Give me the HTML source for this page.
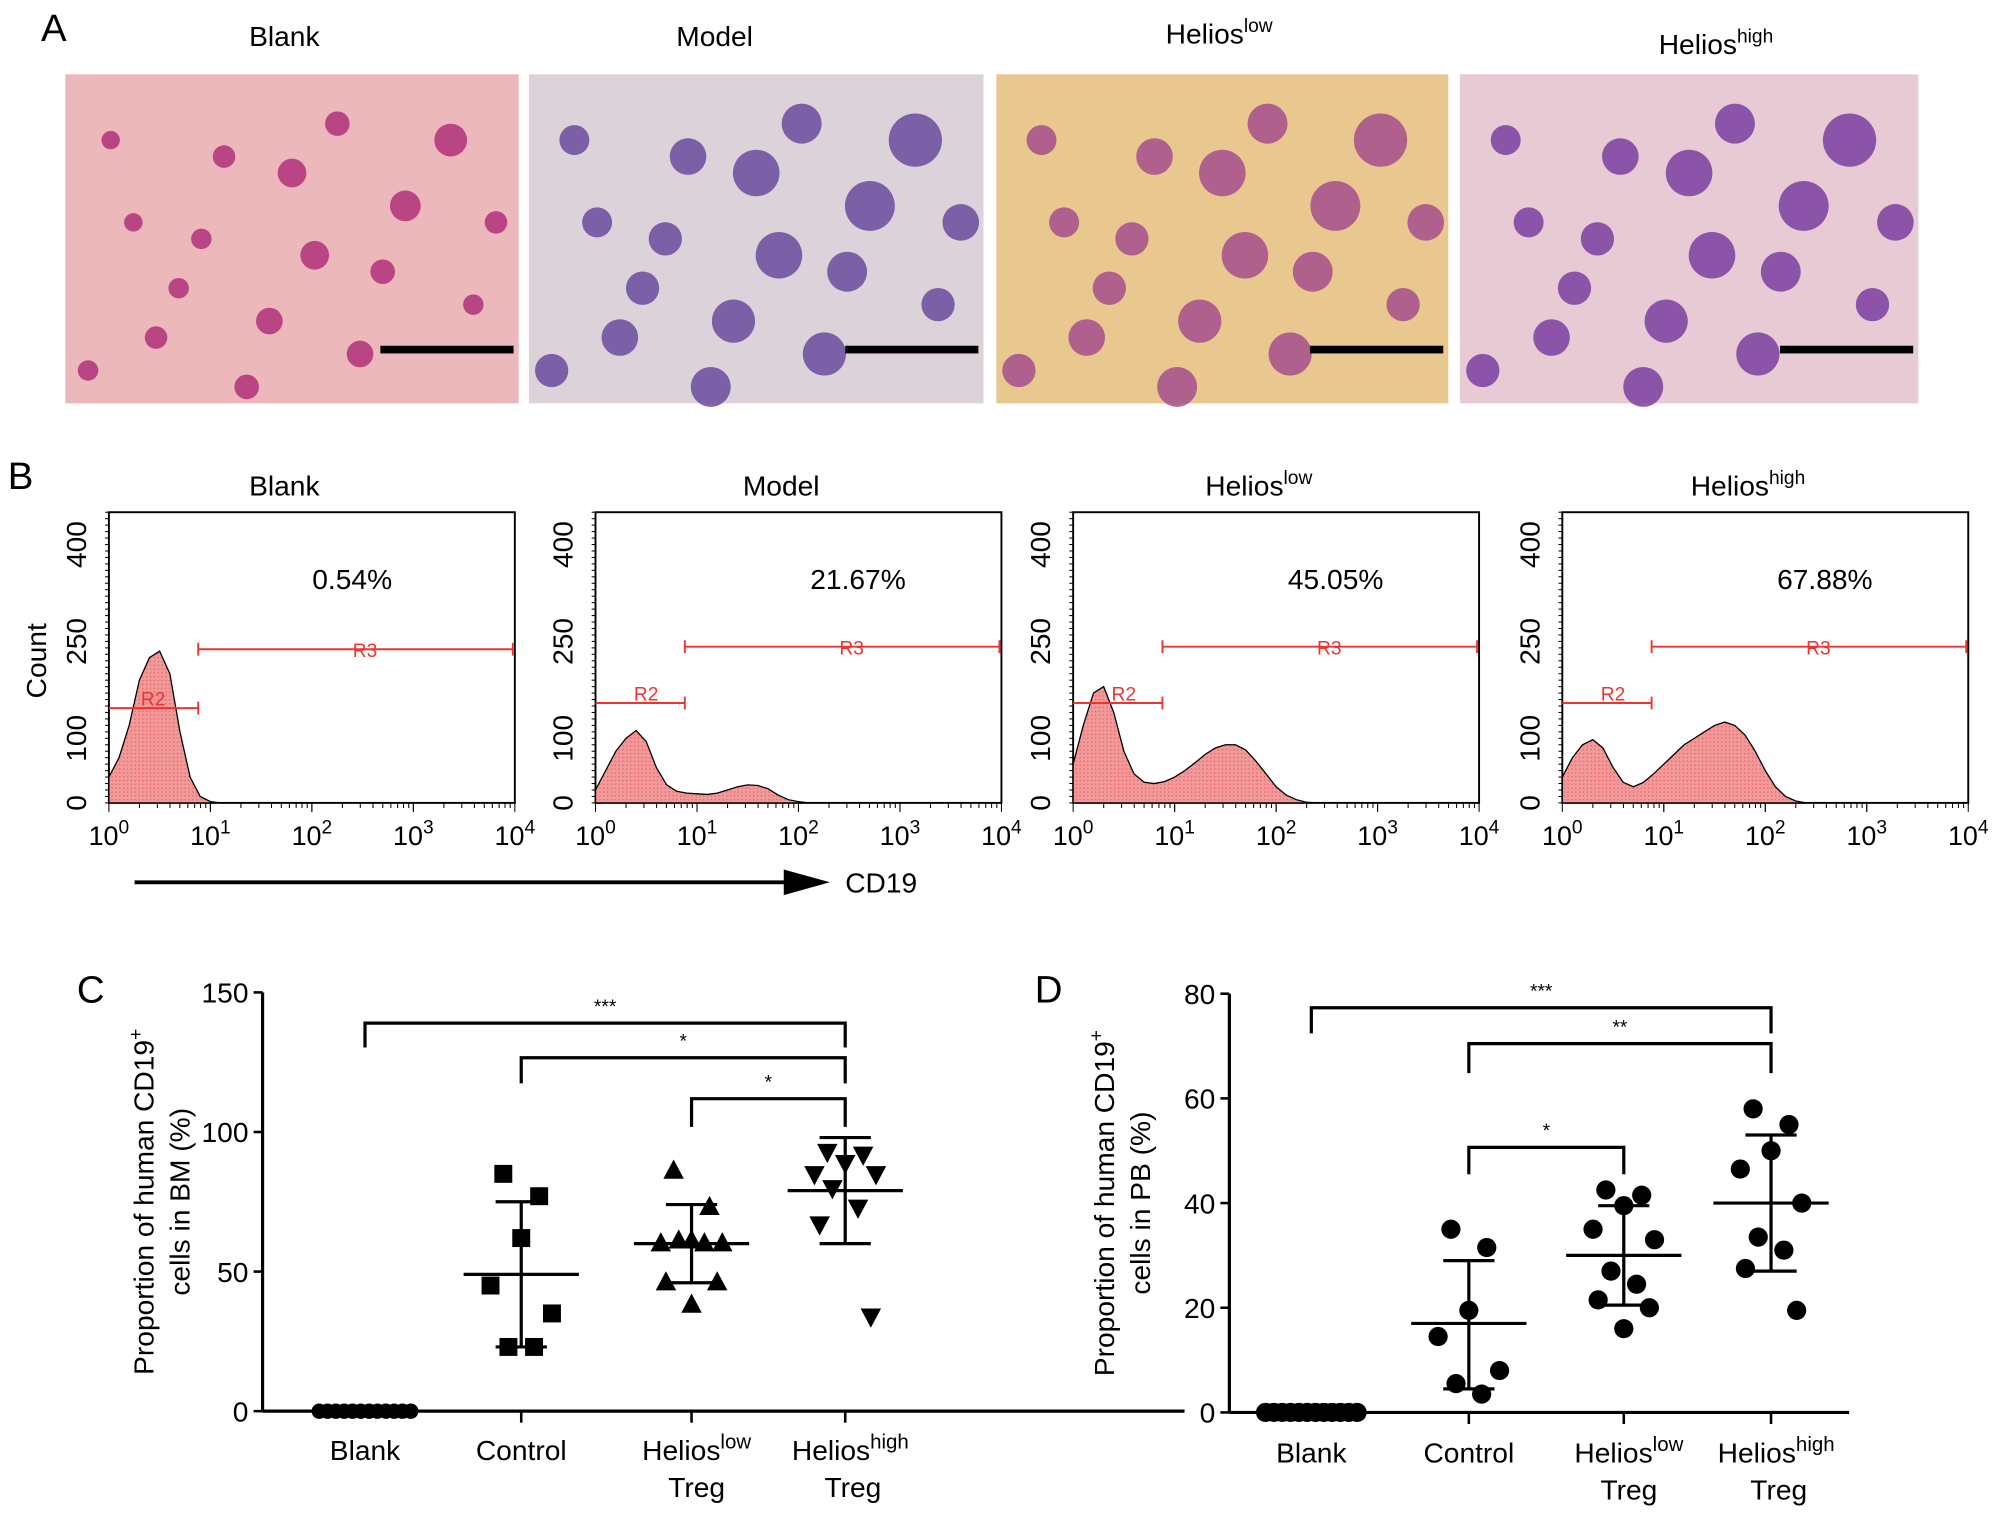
<!DOCTYPE html>
<html><head><meta charset="utf-8">
<style>
html,body{margin:0;padding:0;background:#fff;}
svg{display:block;font-family:"Liberation Sans",Arial,sans-serif;}
</style></head>
<body>
<svg id="fig" width="2008" height="1520" viewBox="0 0 1568 1187" xmlns="http://www.w3.org/2000/svg">
<defs>
<pattern id="hatch" width="3" height="3" patternUnits="userSpaceOnUse"><rect width="3" height="3" fill="#f29a9a"/><rect width="1" height="1" fill="#e86060"/></pattern>
</defs>
<g id="panelA"></g>
<g id="panelB"></g>
<g id="panelC"></g>
<g id="panelD"></g>
</svg>
<script>
const NS="http://www.w3.org/2000/svg";
function mk(tag,attrs,parent,text){const e=document.createElementNS(NS,tag);for(const k in attrs)e.setAttribute(k,attrs[k]);if(text!==undefined)e.textContent=text;parent.appendChild(e);return e;}

// ---------- data ----------
const groupNames=["Blank","Control","Helios low Treg","Helios high Treg"];
const bmBlank=[0,0,0,0,0,0,0,0,0,0,0,0];
const bmControl=[85,77,62,45,35,23,23];
const bmLow=[86,73,61,60,60,61,60,46,46,38];
const bmHigh=[93,92,89,85,85,80,73,67,34];
const bmMean=[0,49,60,79];
const bmSdHi=[0,75,74,98];
const bmSdLo=[0,23,46,60];
const bmTicks=[0,50,100,150];
const pbBlank=[0,0,0,0,0,0,0,0,0,0,0,0];
const pbControl=[35,31.5,19.5,14.5,8,5.5,3.5];
const pbLow=[42.5,41.5,39.5,35,33,27,24.5,21.5,20,16];
const pbHigh=[58,55,50,46.5,40,33.5,31,27.5,19.5];
const pbMean=[0,17,30,40];
const pbSdHi=[0,29,39.5,53];
const pbSdLo=[0,4.5,20.5,27];
const pbTicks=[0,20,40,60,80];
const histTitles=["Blank","Model","Helios","Helios"];
const histSup=["","","low","high"];
const histPct=["0.54%","21.67%","45.05%","67.88%"];
// counts sampled at log10(x)=0,0.1,...,2.6
const hist1=[40,70,120,190,225,235,200,110,40,10,2,0,0,0,0,0,0,0,0,0,0,0,0,0,0,0,0];
const hist2=[20,50,80,100,112,95,55,28,18,15,14,13,15,20,25,28,27,22,12,5,2,0,0,0,0,0,0];
const hist3=[60,120,170,180,140,80,45,32,30,33,40,50,62,75,85,90,90,82,65,45,25,12,5,1,0,0,0];
const hist4=[40,70,90,98,85,55,32,25,32,45,60,75,90,100,110,120,125,120,105,80,50,25,10,3,0,0,0];

// ---------- panel A ----------
const A=document.getElementById('panelA');
mk('text',{x:32,y:32,'font-size':30,},A,'A');
const photos=[{x:51,w:354,bg:"#ecb8bc",cell:"#b0307a",t:"Blank",s:""},{x:413,w:355,bg:"#dcd3da",cell:"#6a4a9e",t:"Model",s:""},{x:778,w:353,bg:"#e9c890",cell:"#a64e8c",t:"Helios",s:"low"},{x:1140,w:358,bg:"#e8cad4",cell:"#7a3fa0",t:"Helios",s:"high"}];
const cellLayout=[[0.1,0.2,9],[0.3,0.5,10],[0.5,0.3,14],[0.7,0.6,12],[0.85,0.2,16],[0.2,0.8,11],[0.45,0.75,13],[0.6,0.15,12],[0.9,0.7,10],[0.15,0.45,9],[0.75,0.4,15],[0.35,0.25,11],[0.55,0.55,14],[0.05,0.9,10],[0.95,0.45,11],[0.4,0.95,12],[0.65,0.85,13],[0.25,0.65,10]];
photos.forEach((p,i)=>{
  const g=mk('g',{},A);
  
  
  mk('rect',{x:p.x,y:58,width:p.w,height:257,fill:p.bg},g);
  cellLayout.forEach((c,j)=>{const r=c[2]*(i==0?0.8:1.3);mk('circle',{cx:p.x+c[0]*p.w,cy:58+c[1]*257,r:r,fill:p.cell,opacity:0.85},g);});
  mk('rect',{x:p.x+p.w-108,y:270,width:104,height:6,fill:"#000"},g);
  const cx=[222,558,952,1340][i];
  const t=mk('text',{x:cx,y:[36,36,34,42][i],'font-size':22,'text-anchor':'middle'},A,p.t);
  
  
  if(p.s)mk('tspan',{'font-size':15,dy:-9},t,p.s);
});

// ---------- panel B ----------
const B=document.getElementById('panelB');
mk('text',{x:6,y:382,'font-size':30,},B,'B');
const boxes=[85,465,838,1220];
const hists=[hist1,hist2,hist3,hist4];
const boxW=317,boxTop=400,boxBot=627;
boxes.forEach((bx,i)=>{
  const g=mk('g',{},B);
  
  
  const xs=l=>bx+l/4*boxW;
  const ys=c=>boxBot-c/450*(boxBot-boxTop);
  mk('rect',{x:bx,y:boxTop,width:boxW,height:boxBot-boxTop,fill:"none",stroke:"#000","stroke-width":1.5},g);
  for(let k=0;k<=45;k++){const yy=ys(k*10);mk('line',{x1:bx-3,x2:bx,y1:yy,y2:yy,stroke:"#000","stroke-width":0.8},g);}
  for(let d=0;d<4;d++)for(let m=1;m<=10;m++){const xx=xs(d+Math.log10(m));mk('line',{x1:xx,x2:xx,y1:boxBot,y2:boxBot+(m==1||m==10?7:4),stroke:"#000","stroke-width":0.8},g);}
  const h=hists[i];let d="M"+xs(0)+","+ys(0);
  h.forEach((c,k)=>{d+=" L"+xs(k*0.1).toFixed(1)+","+ys(c).toFixed(1);});
  d+=" L"+xs((h.length-1)*0.1)+","+ys(0)+" Z";
  const path=mk('path',{d:d,fill:"url(#hatch)",stroke:"#000","stroke-width":1},g);
  
  
  const gy2=i==0?553:549, gy3=i==0?507:505;
  mk('line',{x1:bx,x2:xs(0.88),y1:gy2,y2:gy2,stroke:"#e33","stroke-width":1.5},g);
  mk('line',{x1:xs(0.88),x2:xs(0.88),y1:gy2-5,y2:gy2+5,stroke:"#e33","stroke-width":1.5},g);
  mk('text',{x:bx+(i==0?25:30),y:gy2-2,'font-size':15,fill:"#e33"},g,'R2');
  mk('line',{x1:xs(0.88),x2:xs(3.98),y1:gy3,y2:gy3,stroke:"#e33","stroke-width":1.5},g);
  mk('line',{x1:xs(0.88),x2:xs(0.88),y1:gy3-5,y2:gy3+5,stroke:"#e33","stroke-width":1.5},g);
  mk('line',{x1:xs(3.98),x2:xs(3.98),y1:gy3-5,y2:gy3+5,stroke:"#e33","stroke-width":1.5},g);
  mk('text',{x:bx+200,y:gy3+6,'font-size':15,fill:"#e33",'text-anchor':'middle'},g,'R3');
  const pt=mk('text',{x:bx+(i==0?190:205),y:460,'font-size':22,'text-anchor':'middle'},g,histPct[i]);
  
  
  const tt=mk('text',{x:bx+(i==0?137:145),y:387,'font-size':22,'text-anchor':'middle'},g,histTitles[i]);
  
  
  if(histSup[i])mk('tspan',{'font-size':15,dy:-9},tt,histSup[i]);
  [0,100,250,400].forEach(v=>{const yy=ys(v);const lx=bx-18;mk('text',{x:lx,y:yy,'font-size':22,'text-anchor':'middle',transform:`rotate(-90 ${lx} ${yy})`},g,v);});
  for(let dd=0;dd<=4;dd++){const t=mk('text',{x:xs(dd),y:660,'font-size':21,'text-anchor':'middle'},g,'10');mk('tspan',{'font-size':15,dy:-9},t,dd);}
});
mk('text',{x:36,y:516,'font-size':22,'text-anchor':'middle',transform:'rotate(-90 36 516)',},B,'Count');
mk('line',{x1:105,x2:622,y1:689,y2:689,stroke:"#000","stroke-width":3,},B);
mk('polygon',{points:"648,689 612,679 612,699",fill:"#000"},B);
mk('text',{x:660,y:697,'font-size':22,},B,'CD19');

// ---------- scatter panels ----------
const jitter=[-14,14,0,-24,24,-10,10,-20,20,0];
function scatter(P,cfg){
  const ys=v=>cfg.y0-(v/cfg.max)*(cfg.y0-cfg.yTop);
  mk('text',{x:cfg.lx,y:783,'font-size':30,},P,cfg.letter);
  mk('line',{x1:cfg.ax,x2:cfg.ax,y1:cfg.yTop,y2:cfg.y0,stroke:"#000","stroke-width":2.5},P);
  mk('line',{x1:cfg.ax,x2:cfg.xEnd,y1:cfg.y0,y2:cfg.y0,stroke:"#000","stroke-width":2.5},P);
  cfg.ticks.forEach(v=>{const yy=ys(v);mk('line',{x1:cfg.ax-7,x2:cfg.ax,y1:yy,y2:yy,stroke:"#000","stroke-width":2},P);
    const t=mk('text',{x:cfg.ax-11,y:yy+8,'font-size':22,'text-anchor':'end'},P,v);
    
    });
  const yl=mk('text',{x:0,y:0,'font-size':22,'text-anchor':'middle',transform:`translate(${cfg.ylx},${(cfg.yTop+cfg.y0)/2}) rotate(-90)`},P);
  
  
  mk('tspan',{x:0,dy:0},yl,'Proportion of human CD19');mk('tspan',{'font-size':15,dy:-9},yl,'+');
  mk('tspan',{x:0,dy:37},yl,cfg.line2);
  const groups=[cfg.blank,cfg.control,cfg.low,cfg.high];
  groups.forEach((vals,gi)=>{
    const cx=cfg.xs[gi];
    if(gi>0)mk('line',{x1:cx,x2:cx,y1:cfg.y0,y2:cfg.y0+9,stroke:"#000","stroke-width":2},P);
    const lab=mk('text',{x:cx+(gi>=2?4:0),y:cfg.labY,'font-size':22,'text-anchor':'middle'},P);
    
    
    if(gi<2)lab.textContent=groupNames[gi];
    else{mk('tspan',{},lab,'Helios');mk('tspan',{'font-size':16,dy:-9},lab,gi==2?'low':'high');mk('tspan',{x:cx+(gi==2?4:6),dy:38},lab,'Treg');}
    const n=vals.length;
    vals.forEach((v,k)=>{
      const off=gi==0?(k-(n-1)/2)*6.5:jitter[k%jitter.length];
      const px=cx+off,py=ys(v);let e;
      if(cfg.shape==='circle')e=mk('circle',{cx:px,cy:py,r:7.5,fill:"#000"},P);
      else if(gi==0)e=mk('circle',{cx:px,cy:py,r:6,fill:"#000"},P);
      else if(gi==1)e=mk('rect',{x:px-7,y:py-7,width:14,height:14,fill:"#000"},P);
      else if(gi==2)e=mk('polygon',{points:`${px},${py-9} ${px-8},${py+6} ${px+8},${py+6}`,fill:"#000"},P);
      else e=mk('polygon',{points:`${px},${py+9} ${px-8},${py-6} ${px+8},${py-6}`,fill:"#000"},P);
      
      
    });
    if(gi>0){
      const m=mk('line',{x1:cx-45,x2:cx+45,y1:ys(cfg.mean[gi]),y2:ys(cfg.mean[gi]),stroke:"#000","stroke-width":2.5},P);
      
      
      mk('line',{x1:cx,x2:cx,y1:ys(cfg.hi[gi]),y2:ys(cfg.lo[gi]),stroke:"#000","stroke-width":2.5},P);
      mk('line',{x1:cx-20,x2:cx+20,y1:ys(cfg.hi[gi]),y2:ys(cfg.hi[gi]),stroke:"#000","stroke-width":2.5},P);
      mk('line',{x1:cx-20,x2:cx+20,y1:ys(cfg.lo[gi]),y2:ys(cfg.lo[gi]),stroke:"#000","stroke-width":2.5},P);
    }
  });
  cfg.sig.forEach(s=>{
    const x1=cfg.xs[s[0]],x2=cfg.xs[s[1]],yb=s[2],ye=s[3],tx=(x1+x2)/2;
    const b=mk('path',{d:`M${x1},${ye} V${yb} H${x2} V${ye}`,fill:"none",stroke:"#000","stroke-width":2.5},P);
    
    
    mk('text',{x:tx,y:yb-8,'font-size':15,'text-anchor':'middle'},P,s[4]);
  });
}
scatter(document.getElementById('panelC'),{id:'bm',letter:'C',lx:60,ax:205,xEnd:925,y0:1102,yTop:775,max:150,ticks:bmTicks,ylx:120,line2:'cells in BM (%)',
  xs:[285,407,540,660],blank:bmBlank,control:bmControl,low:bmLow,high:bmHigh,mean:bmMean,hi:bmSdHi,lo:bmSdLo,shape:'mixed',labY:1140,
  sig:[[0,3,799,818,'***'],[1,3,826,846,'*'],[2,3,858,880,'*']]});
scatter(document.getElementById('panelD'),{id:'pb',letter:'D',lx:808,ax:960,xEnd:1444,y0:1103,yTop:776,max:80,ticks:pbTicks,ylx:870,line2:'cells in PB (%)',
  xs:[1024,1147,1268,1383],blank:pbBlank,control:pbControl,low:pbLow,high:pbHigh,mean:pbMean,hi:pbSdHi,lo:pbSdLo,shape:'circle',labY:1142,
  sig:[[0,3,787,807,'***'],[1,3,815,838,'**'],[1,2,896,917,'*']]});
</script>
</body></html>
